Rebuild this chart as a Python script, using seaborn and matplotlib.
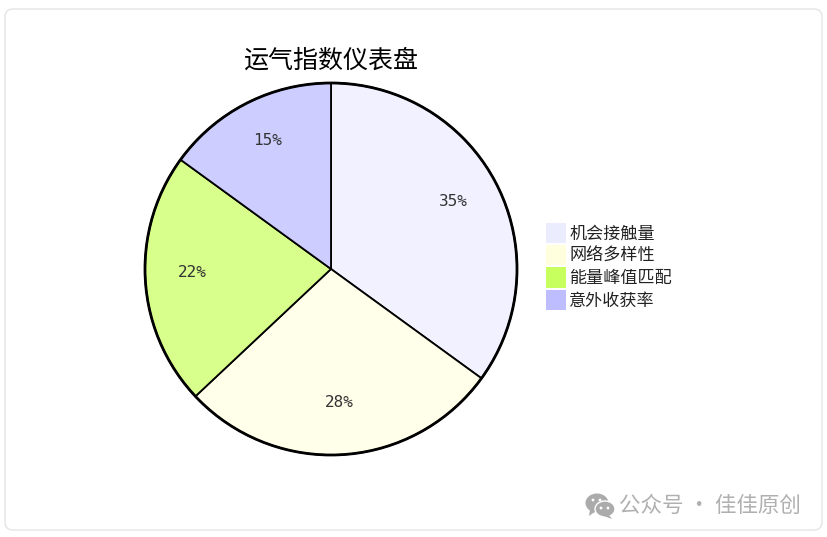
import matplotlib
matplotlib.use('Agg')
import matplotlib.pyplot as plt
from matplotlib.patches import FancyBboxPatch, Ellipse, Circle, Patch, Polygon
import numpy as np
import seaborn as sns

categories = ['机会接触量', '网络多样性', '能量峰值匹配', '意外收获率']
values = [35, 28, 22, 15]
slice_colors = ['#F1F1FF', '#FFFFEA', '#D8FF8C', '#CDCDFF']
legend_colors = ['#ECECFF', '#FFFFDE', '#C6FF5E', '#BDBDFF']
title = '运气指数仪表盘'
watermark = '公众号 · 佳佳原创'

sns.set_theme(style='white')
plt.rcParams['font.family'] = ['Noto Sans CJK SC', 'DejaVu Sans']

W, H = 828, 537
fig = plt.figure(figsize=(W / 100, H / 100), dpi=100, facecolor='white')

# card behind everything
card = fig.add_axes([0, 0, 1, 1], zorder=0)
card.set_xlim(0, W)
card.set_ylim(H, 0)
card.axis('off')
card.add_patch(FancyBboxPatch((5, 9), 817, 521, boxstyle='round,pad=0,rounding_size=8',
                              fc='white', ec='#E4E4E4', lw=1))

# pie, radius 186 px around (331, 269)
cx, cy, r = 331, 269, 186
half = r * 1.25
ax = fig.add_axes([(cx - half) / W, 1 - (cy + half) / H, 2 * half / W, 2 * half / H], zorder=1)
wedges, texts = ax.pie(values, colors=slice_colors, startangle=90, counterclock=False,
                       wedgeprops={'edgecolor': 'black', 'linewidth': 1.3})
ax.add_patch(Circle((0, 0), 1, fc='none', ec='black', lw=2))
ax.set_xlim(-1.25, 1.25)
ax.set_ylim(-1.25, 1.25)

# slice labels
start = 0
for v in values:
    mid = np.deg2rad(90 - (start + v / 2) * 3.6)
    ax.annotate(f'{v}%', (0.745 * np.cos(mid), 0.745 * np.sin(mid)), xytext=(-0.5, 3.6),
                textcoords='offset points', ha='center', va='center',
                fontsize=11.5, color='#333333', family=['DejaVu Sans Mono'], stretch='condensed')
    start += v

fig.text(331 / W, 1 - 61 / H, title, ha='center', va='center', fontsize=18, color='black')

# legend
handles = [Patch(fc=c, ec='none') for c in legend_colors]
leg = fig.legend(handles, categories, loc='upper left', bbox_to_anchor=(546 / W, 1 - 223 / H),
                 frameon=False, fontsize=12.3, handlelength=1.17, handleheight=1.44,
                 labelspacing=0.12, handletextpad=0.2, borderpad=0, borderaxespad=0)
for t in leg.get_texts():
    t.set_color('#222222')

# watermark with the little chat icon
grey = '#ABABAB'
card.add_patch(Ellipse((597, 503), 23, 19, fc=grey, ec='none'))
card.add_patch(Polygon([[590, 510], [589, 516], [596, 511]], fc=grey, ec='none'))
card.add_patch(Ellipse((605, 509), 20, 16, fc=grey, ec='white', lw=1))
card.add_patch(Polygon([[609, 515], [612, 519], [604, 516]], fc=grey, ec='none'))
for px, py in [(593, 500), (600, 500), (601, 508), (608, 508)]:
    card.add_patch(Circle((px, py), 1.4, fc='white', ec='none'))
card.text(801, 506, watermark, ha='right', va='center', fontsize=15.5, color='#B0B0B0')

fig.savefig('out.png', dpi=100, facecolor='white')
